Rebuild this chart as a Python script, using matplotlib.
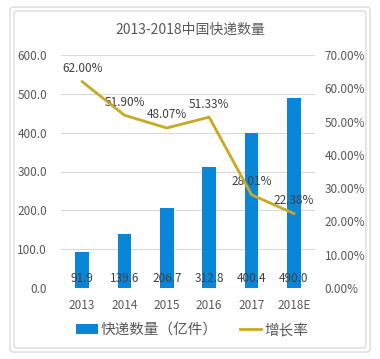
import matplotlib
matplotlib.use("Agg")
import matplotlib.pyplot as plt
from matplotlib.patches import FancyBboxPatch
from matplotlib.lines import Line2D
from matplotlib.patches import Patch

plt.rcParams['font.family'] = ['Noto Sans CJK SC', 'DejaVu Sans']

years = ["2013", "2014", "2015", "2016", "2017", "2018E"]
volume = [91.9, 139.6, 206.7, 312.8, 400.4, 490.0]
growth = [62.00, 51.90, 48.07, 51.33, 28.01, 22.38]
left_ticks = [0, 100, 200, 300, 400, 500, 600]
right_ticks = [0, 10, 20, 30, 40, 50, 60, 70]

W, H = 380, 359
fig = plt.figure(figsize=(W / 100, H / 100), dpi=100)
fig.patch.set_facecolor("white")

# frames
for (x0, y0, x1, y1) in [(10, 7, 370, 352), (14, 11, 366, 348)]:
    fig.patches.append(FancyBboxPatch((x0 / W, 1 - y1 / H), (x1 - x0) / W, (y1 - y0) / H,
                                      boxstyle="round,pad=0,rounding_size=0.008",
                                      transform=fig.transFigure, fill=False,
                                      edgecolor="#dcdcdc", linewidth=1.0))

ax_l, ax_r, ax_t, ax_b = 61, 315, 55, 288
ax = fig.add_axes([ax_l / W, 1 - ax_b / H, (ax_r - ax_l) / W, (ax_b - ax_t) / H])
ax2 = ax.twinx()

x = list(range(len(years)))
blue = "#0A86D8"
gold = "#C9A824"
txt = "#595959"

ax.bar(x, volume, width=0.315, color=blue, zorder=2)
for xi, v in zip(x, volume):
    ax.text(xi, 25, f"{v:.1f}", ha="center", va="center", fontsize=8.5, color="#404040", zorder=3)

ax.set_ylim(0, 600)
ax.set_xlim(-0.5, len(years) - 0.5)
ax.set_yticks(left_ticks)
ax.set_yticklabels([f"{t:.1f}" for t in left_ticks])
ax.set_xticks(x)
ax.set_xticklabels(years)
ax.grid(axis="y", color="#d9d9d9", linewidth=0.8, zorder=0)
ax.set_axisbelow(True)

ax2.plot(x, growth, color=gold, linewidth=2, zorder=4)
for xi, g in zip(x, growth):
    ax2.annotate(f"{g:.2f}%", (xi, g), xytext=(0, 13), textcoords="offset pixels",
                 ha="center", va="center", fontsize=8.5, color="#404040")
ax2.set_ylim(0, 70)
ax2.set_yticks(right_ticks)
ax2.set_yticklabels([f"{t:.2f}%" for t in right_ticks])

for a in (ax, ax2):
    for s in a.spines.values():
        s.set_visible(False)
    a.tick_params(length=0, labelsize=8.5, labelcolor=txt)
ax.tick_params(axis="x", pad=8)
ax.tick_params(axis="y", pad=10)
ax2.tick_params(axis="y", pad=7)

fig.text(190 / W, 1 - 30 / H, "2013-2018中国快递数量", ha="center", va="center",
         fontsize=10, color=txt)

handles = [Patch(facecolor=blue, edgecolor="none"), Line2D([0], [0], color=gold, linewidth=2)]
fig.legend(handles, ["快递数量（亿件）", "增长率"], loc="center",
           bbox_to_anchor=(192 / W, 1 - 330 / H), ncol=2, frameon=False,
           fontsize=10.5, labelcolor=txt, handlelength=1.5, handletextpad=0.2,
           columnspacing=1.5, handleheight=0.7)

fig.savefig("out.png", dpi=100)
